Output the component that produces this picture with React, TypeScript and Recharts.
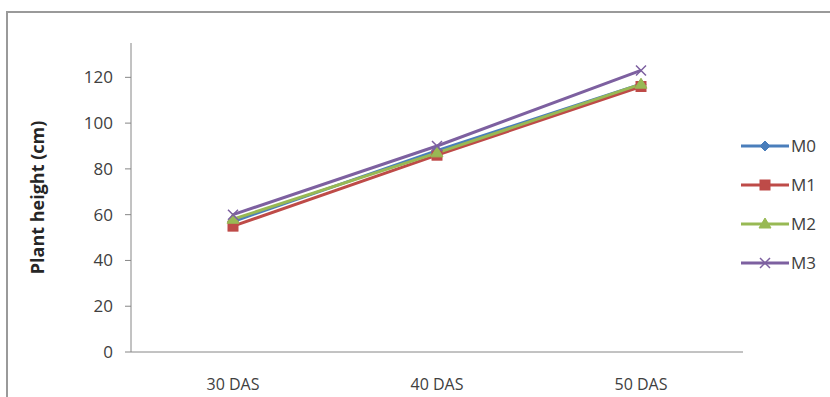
import React from 'react';
import { LineChart, Line, XAxis, YAxis, Legend } from 'recharts';

const categories = ['30 DAS', '40 DAS', '50 DAS'];
const m0 = [57, 88, 117];
const m1 = [55, 86, 116];
const m2 = [58, 87, 117];
const m3 = [60, 90, 123];
const yTicks = [0, 20, 40, 60, 80, 100, 120];
const bandTicks = [0, 1, 2, 3];

const seriesNames = ['M0', 'M1', 'M2', 'M3'];
const colors = ['#4A7EBB', '#BE4B48', '#98B954', '#7D60A0'];
const shapes = ['diamond', 'square', 'triangle', 'x'];

const data = categories.map((c, i) => ({ cat: c, band: i + 0.5, M0: m0[i], M1: m1[i], M2: m2[i], M3: m3[i] }));

const FONT = '"Open Sans", Lato, sans-serif';

function marker(shape: string, cx: number, cy: number, color: string, key?: any) {
  const s = 5;
  if (shape === 'diamond') {
    return <path key={key} d={`M${cx},${cy - s}L${cx + s},${cy}L${cx},${cy + s}L${cx - s},${cy}Z`} fill={color} stroke={color} strokeWidth={1} />;
  }
  if (shape === 'square') {
    return <rect key={key} x={cx - s} y={cy - s} width={2 * s} height={2 * s} fill={color} stroke={color} strokeWidth={1} />;
  }
  if (shape === 'triangle') {
    return <path key={key} d={`M${cx},${cy - s - 1}L${cx + s + 1},${cy + s - 1}L${cx - s - 1},${cy + s - 1}Z`} fill={color} stroke={color} strokeWidth={1} />;
  }
  return (
    <path key={key} d={`M${cx - s},${cy - s}L${cx + s},${cy + s}M${cx + s},${cy - s}L${cx - s},${cy + s}`} stroke={color} strokeWidth={1.5} fill="none" />
  );
}

const makeDot = (idx: number) => (props: any) => {
  const { cx, cy, index } = props;
  if (cx == null || cy == null) return <g key={`d${idx}-${index}`} />;
  return marker(shapes[idx], cx, cy, colors[idx], `d${idx}-${index}`);
};

const LegendContent = () => (
  <div style={{ fontFamily: FONT }}>
    {seriesNames.map((n, i) => (
      <div key={n} style={{ display: 'flex', alignItems: 'center', height: 39 }}>
        <svg width={48} height={14} style={{ display: 'block' }}>
          <line x1={0} y1={7} x2={48} y2={7} stroke={colors[i]} strokeWidth={3} />
          {marker(shapes[i], 24, 7, colors[i])}
        </svg>
        <span style={{ fontSize: 17, color: '#404040', marginLeft: 2, lineHeight: '20px' }}>{n}</span>
      </div>
    ))}
  </div>
);

export default function App() {
  return (
    <div style={{ position: 'absolute', left: 0, top: 0, width: 830, height: 397, overflow: 'hidden', background: '#fff' }}>
      <div style={{ position: 'absolute', left: 6, top: 11, width: 900, height: 500, border: '2px solid #9a9a9a', boxSizing: 'border-box' }} />
      <div style={{ position: 'absolute', left: 0, top: 0 }}>
        <LineChart width={830} height={397} data={data} margin={{ top: 43, right: 87, bottom: 0, left: 71 }}>
          <XAxis
            xAxisId="band"
            type="number"
            dataKey="band"
            domain={[0, 3]}
            ticks={bandTicks}
            tickFormatter={() => ''}
            axisLine={false}
            tickLine={{ stroke: '#868686' }}
            tickSize={6}
            height={0}
            interval={0}
          />
          <XAxis
            xAxisId="cat"
            dataKey="cat"
            padding={{ left: 102, right: 102 }}
            axisLine={{ stroke: '#868686' }}
            tickLine={false}
            tick={{ fill: '#404040', fontSize: 16, fontFamily: FONT }}
            tickMargin={21}
            height={45}
            interval={0}
          />
          <YAxis
            domain={[0, 135]}
            ticks={yTicks}
            width={60}
            axisLine={{ stroke: '#868686' }}
            tickLine={{ stroke: '#868686' }}
            tickSize={6}
            tickMargin={12}
            tick={{ fill: '#404040', fontSize: 17, fontFamily: FONT }}
            interval={0}
            allowDataOverflow
            label={{ value: 'Plant height (cm)', angle: -90, position: 'insideLeft', offset: 0, dx: -33, dy: 0, style: { textAnchor: 'middle', fontWeight: 'bold', fontSize: 18, fontFamily: FONT, fill: '#262626' } }}
          />
          {seriesNames.map((n, i) => (
            <Line
              key={n}
              xAxisId="cat"
              dataKey={n}
              stroke={colors[i]}
              strokeWidth={3}
              dot={makeDot(i)}
              activeDot={false}
              isAnimationActive={false}
            />
          ))}
          <Legend
            layout="vertical"
            align="center"
            verticalAlign="middle"
            content={<LegendContent />}
            wrapperStyle={{ position: 'absolute', left: 741, top: 126, width: 90 }}
          />
        </LineChart>
      </div>
    </div>
  );
}
